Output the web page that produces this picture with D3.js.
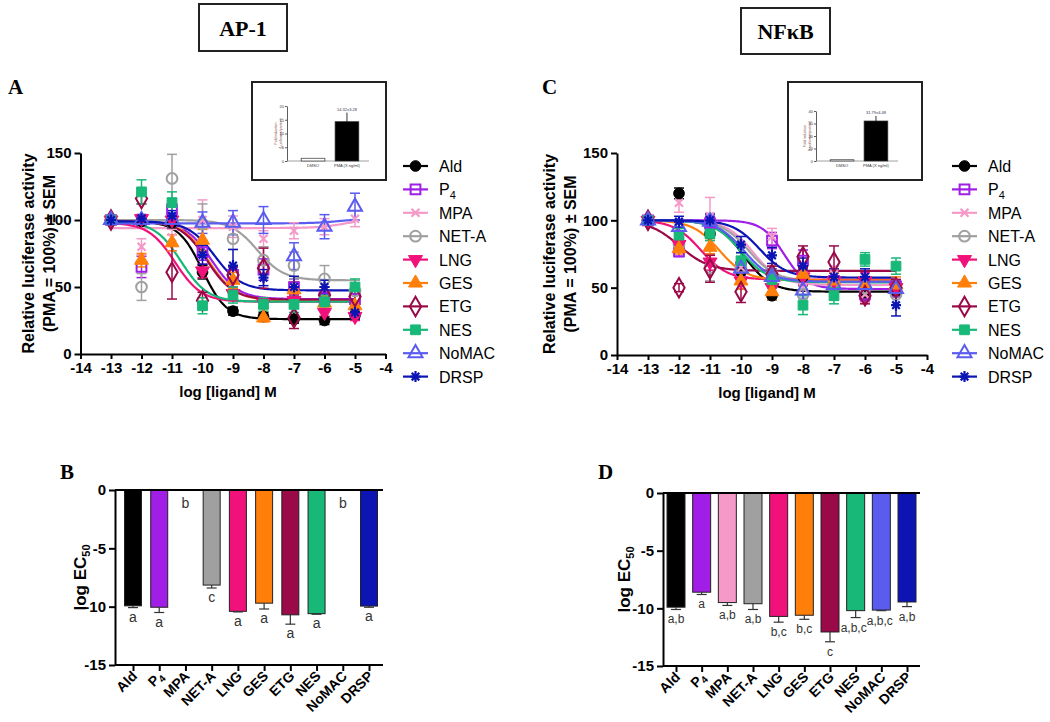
<!DOCTYPE html>
<html><head><meta charset="utf-8">
<script src="https://cdn.jsdelivr.net/npm/d3@7"></script>
<style>body{margin:0;background:#fff}svg{display:block}</style>
</head><body>
<svg id="c" width="1050" height="722"></svg>
<script>
// ---------------- DATA ----------------
const compounds = ["Ald","P4","MPA","NET-A","LNG","GES","ETG","NES","NoMAC","DRSP"];
const colors = ["#000000","#a01ee6","#f59ac8","#a0a0a0","#f0127a","#ff7f0a","#9a0a48","#18b878","#5a5cf0","#0c14b4"];
const shapes = ["circle","squareOpen","x","circleOpen","triDown","tri","diamondOpen","square","triOpen","star"];
const doses = [-13,-12,-11,-10,-9,-8,-7,-6,-5];
const xTicks = [-14,-13,-12,-11,-10,-9,-8,-7,-6,-5,-4];
const yTicks = [0,50,100,150];

// AP-1 dose response (mean, SEM)
const ap1Means = [
  [100,99,98,61,32,28,26,25,29],
  [100,65,108,76,59,63,50,42,41],
  [100,80,87,100,95,86,92,95,101],
  [100,50,131,97,86,70,66,56,47],
  [100,101,100,62,45,38,40,31,28],
  [100,70,83,85,55,27,48,38,36],
  [100,116,61,40,59,64,27,44,43],
  [100,121,113,36,44,37,37,39,50],
  [100,100,100,98,98,100,73,95,110],
  [100,101,103,74,66,57,50,50,31]
];
const ap1Sem = [
  [2,3,4,5,3,3,3,3,3],
  [2,8,6,6,6,8,6,5,4],
  [2,6,6,15,8,6,6,6,6],
  [2,10,18,15,8,10,10,10,8],
  [2,3,3,5,5,4,4,3,3],
  [2,5,6,8,6,3,6,5,3],
  [2,4,20,6,6,15,8,6,6],
  [2,9,8,6,6,5,6,5,6],
  [2,4,5,8,9,10,10,9,10],
  [2,3,4,7,12,6,8,5,5]
];
// AP-1 fitted curve parameters (left plateau, right plateau, logEC50, hill)
const ap1Top    = [99,99,94,100,98,99,99,99,97.5,99];
const ap1Bottom = [26,41,101,55,39,40,40.5,39,101,47.5];
const ap1LogEC  = [-10.0,-9.7,-5.3,-8.2,-10.9,-9.8,-9.85,-10.7,-5.5,-9.6];
const ap1Hill   = [1.1,1.0,1.0,1.0,1.0,1.0,1.0,1.0,1.0,1.0];

// NFkB dose response
const nfMeans = [
  [100,120,90,62,44,58,55,45,48],
  [100,77,98,65,85,70,55,45,51],
  [100,113,103,65,88,50,60,45,50],
  [100,82,65,65,60,45,55,50,45],
  [100,82,69,55,50,58,55,55,50],
  [100,79,80,55,47,60,55,52,52],
  [100,50,64,47,60,73,69,44,50],
  [100,89,90,70,56,37,44,71,66],
  [100,95,99,64,58,48,52,52,49],
  [100,99,100,82,74,66,58,58,37]
];
const nfSem = [
  [2,4,3,5,3,6,6,4,4],
  [2,4,5,6,6,8,6,5,5],
  [2,7,14,6,6,8,6,6,6],
  [2,5,10,6,6,6,6,6,8],
  [2,4,6,6,6,6,6,6,6],
  [2,4,5,6,6,6,6,6,6],
  [2,3,10,8,6,8,12,6,6],
  [2,5,5,6,6,7,6,5,6],
  [2,4,5,5,6,6,6,6,6],
  [2,4,5,6,6,6,6,6,8]
];
const nfTop    = [100,100,100,100,100,100,100,100,100,100];
const nfBottom = [47,49,52,55,56,55.5,62.5,54,54.5,57.5];
const nfLogEC  = [-9.9,-8.6,-9.6,-9.75,-11.3,-10.7,-12.0,-10.0,-9.9,-9.4];
const nfHill   = [1.0,1.2,1.0,1.0,1.0,1.0,0.9,1.0,1.0,1.0];

// log EC50 bar data
const barTicks = [0,-5,-10,-15];
const ap1EC50 = [-9.93,-10.05,null,-8.15,-10.4,-9.7,-10.7,-10.6,null,-9.95];
const ap1EC50Err = [0.15,0.45,null,0.25,0.05,0.5,0.8,0.05,null,0.1];
const ap1Letters = ["a","a","b","c","a","a","a","a","b","a"];
const nfEC50 = [-9.9,-8.6,-9.5,-9.6,-10.7,-10.6,-12.05,-10.2,-10.15,-9.45];
const nfEC50Err = [0.2,0.2,0.25,0.5,0.5,0.35,0.85,0.6,0.05,0.4];
const nfLetters = ["a,b","a","a,b","a,b","b,c","b,c","c","a,b,c","a,b,c","a,b"];

// inset bar charts
const insetCats = ["DMSO","PMA (X ng/ml)"];
const ap1InsetVals = [1,14.3];
const ap1InsetErr = [0,3.3];
const ap1InsetTicks = [0,5,10,15,20];
const nfInsetVals = [1,32];
const nfInsetErr = [0,4];
const nfInsetTicks = [0,10,20,30,40];

// ---------------- DRAWING ----------------
const svg = d3.select("#c");
const SANS = "'Liberation Sans', Arial, sans-serif";
const SERIF = "'Liberation Serif', 'Times New Roman', serif";

function symbolPath(shape){
  switch(shape){
    case "circle": case "circleOpen": return d3.symbol().type(d3.symbolCircle).size(90)();
    case "square": case "squareOpen": return d3.symbol().type(d3.symbolSquare).size(95)();
    case "tri": case "triOpen": return d3.symbol().type(d3.symbolTriangle).size(85)();
    case "triDown": return d3.symbol().type(d3.symbolTriangle).size(85)();
    case "diamondOpen": return d3.symbol().type(d3.symbolDiamond).size(110)();
    case "x": return "M-4,-4L4,4M-4,4L4,-4";
    case "star": return "M-5,0H5M0,-5.5V5.5M-3.8,-3.8L3.8,3.8M-3.8,3.8L3.8,-3.8";
  }
}
function drawSymbol(g, shape, color, x, y){
  const p = g.append("path").attr("d", symbolPath(shape))
    .attr("transform", `translate(${x},${y})` + (shape==="triDown" ? " rotate(180)" : ""));
  if (["circle","square","tri","triDown"].includes(shape)) p.attr("fill", color).attr("stroke", color).attr("stroke-width",1);
  else if (["x","star"].includes(shape)) p.attr("fill","none").attr("stroke", color).attr("stroke-width", 2.2);
  else p.attr("fill","none").attr("stroke", color).attr("stroke-width", 2);
}
function sigmoid(x, top, bottom, ec, hill){
  return bottom + (top - bottom) / (1 + Math.pow(10, (x - ec) * hill));
}

function dosePanel(cfg){
  const x = d3.scaleLinear().domain([-14,-4]).range([cfg.x0, cfg.x1]);
  const y = d3.scaleLinear().domain([0,150]).range([cfg.yBot, cfg.yTop]);
  const g = svg.append("g");

  const xa = g.append("g").attr("transform", `translate(0,${cfg.yBot})`)
    .call(d3.axisBottom(x).tickValues(xTicks).tickSize(5).tickSizeOuter(0).tickPadding(3).tickFormat(d3.format("d")));
  const ya = g.append("g").attr("transform", `translate(${cfg.x0},0)`)
    .call(d3.axisLeft(y).tickValues(yTicks).tickSize(6).tickSizeOuter(0).tickPadding(3));
  [xa, ya].forEach(a => {
    a.selectAll("path,line").attr("stroke","#000").attr("stroke-width",2);
    a.selectAll("text").attr("font-family",SANS).attr("font-weight","bold").attr("font-size",15).attr("fill","#000");
  });
  xa.selectAll("text").text(d => String(d));

  g.append("text").attr("x", (cfg.x0 + cfg.x1)/2 - 5).attr("y", cfg.yBot + 43)
    .attr("text-anchor","middle").attr("font-family",SANS).attr("font-weight","bold").attr("font-size",15)
    .text("log [ligand] M");
  const yl = g.append("text").attr("transform", `translate(${cfg.ylx},${(cfg.yTop+cfg.yBot)/2}) rotate(-90)`)
    .attr("text-anchor","middle").attr("font-family",SANS).attr("font-weight","bold").attr("font-size",16);
  yl.append("tspan").attr("x",0).attr("dy",0).text("Relative luciferase activity");
  yl.append("tspan").attr("x",0).attr("dy",21).text("(PMA = 100%) \u00b1 SEM");

  const xs = d3.range(-13, -4.99, 0.04);
  const line = d3.line().x(d => x(d[0])).y(d => y(d[1]));
  compounds.forEach((c, i) => {
    const pts = xs.map(v => [v, sigmoid(v, cfg.top[i], cfg.bottom[i], cfg.ec[i], cfg.hill[i])]);
    g.append("path").attr("d", line(pts)).attr("fill","none").attr("stroke", colors[i]).attr("stroke-width",2.2);
  });
  compounds.forEach((c, i) => {
    const gg = g.append("g");
    doses.forEach((d, j) => {
      const m = cfg.means[i][j], s = cfg.sem[i][j];
      const cx = x(d);
      gg.append("line").attr("x1",cx).attr("x2",cx).attr("y1",y(m-s)).attr("y2",y(m+s)).attr("stroke",colors[i]).attr("stroke-width",1.5);
      [m-s, m+s].forEach(v => gg.append("line").attr("x1",cx-5).attr("x2",cx+5).attr("y1",y(v)).attr("y2",y(v)).attr("stroke",colors[i]).attr("stroke-width",1.5));
    });
  });
  compounds.forEach((c, i) => {
    doses.forEach((d, j) => drawSymbol(g, shapes[i], colors[i], x(d), y(cfg.means[i][j])));
  });

  compounds.forEach((c, i) => {
    const ly = cfg.legY + i * 23.4;
    g.append("line").attr("x1", cfg.legX).attr("x2", cfg.legX + 25).attr("y1", ly).attr("y2", ly).attr("stroke", colors[i]).attr("stroke-width",2.2);
    drawSymbol(g, shapes[i], colors[i], cfg.legX + 12.5, ly);
    const t = g.append("text").attr("x", cfg.legX + 36).attr("y", ly + 6).attr("font-family",SANS).attr("font-size",16);
    if (c === "P4") { t.append("tspan").text("P"); t.append("tspan").attr("font-size",11).attr("dy",4).text("4"); }
    else t.text(c);
  });

  svg.append("text").attr("x", cfg.letterX).attr("y", 94).attr("font-family",SERIF).attr("font-weight","bold").attr("font-size",21).text(cfg.letter);
}

function inset(cfg){
  const g = svg.append("g");
  g.append("rect").attr("x",cfg.bx).attr("y",82).attr("width",134).attr("height",98).attr("fill","#fff").attr("stroke","#222").attr("stroke-width",2);
  const y = d3.scaleLinear().domain([0, cfg.ticks[cfg.ticks.length-1]]).range([161, cfg.yTop]);
  const x = d3.scaleBand().domain(insetCats).range([cfg.ax + 4, cfg.ax + 82]).padding(0.3);
  const ya = g.append("g").attr("transform",`translate(${cfg.ax},0)`).call(d3.axisLeft(y).tickValues(cfg.ticks).tickSize(2).tickSizeOuter(0).tickPadding(1));
  ya.selectAll("path,line").attr("stroke","#333").attr("stroke-width",0.8);
  ya.selectAll("text").attr("font-size",4).attr("font-family",SANS).attr("fill","#333");
  g.append("line").attr("x1",cfg.ax).attr("x2",cfg.ax+82).attr("y1",161).attr("y2",161).attr("stroke","#888").attr("stroke-width",0.8);
  insetCats.forEach((c,i) => {
    const v = cfg.vals[i];
    g.append("rect").attr("x",x(c)).attr("y",y(v)).attr("width",x.bandwidth()).attr("height",161-y(v))
      .attr("fill", i===0 ? "#fff" : "#000").attr("stroke","#333").attr("stroke-width",0.7);
    if (cfg.err[i] > 0) {
      const cx = x(c) + x.bandwidth()/2;
      g.append("line").attr("x1",cx).attr("x2",cx).attr("y1",y(v)).attr("y2",y(v+cfg.err[i])).attr("stroke","#000").attr("stroke-width",0.8);
      g.append("text").attr("x",cx).attr("y",y(v+cfg.err[i])-2).attr("text-anchor","middle").attr("font-size",4).attr("font-family",SANS).attr("fill","#335").text(cfg.label);
    }
    g.append("text").attr("x",x(c)+x.bandwidth()/2).attr("y",167).attr("text-anchor","middle").attr("font-size",4).attr("font-family",SANS).attr("fill","#333").text(c);
  });
  const t = g.append("text").attr("transform",`translate(${cfg.ax-10},${(161+cfg.yTop)/2}) rotate(-90)`).attr("text-anchor","middle").attr("font-size",3.5).attr("font-family",SANS).attr("fill","#733");
  t.append("tspan").attr("x",0).text("Fold induction");
  t.append("tspan").attr("x",0).attr("dy",4.5).text("(Luciferase/protein)");
}

function barPanel(cfg){
  const g = svg.append("g");
  const x = d3.scalePoint().domain(compounds).range([cfg.c0, cfg.c1]);
  const y = d3.scaleLinear().domain([0,-15]).range([cfg.y0, cfg.y15]);
  const bw = cfg.bw;
  compounds.forEach((c,i) => {
    const v = cfg.vals[i];
    const lx = x(c) + (cfg.letterShift ? cfg.letterShift[i] : 0);
    if (v !== null) {
      g.append("rect").attr("x", x(c)-bw/2).attr("y", y(0)).attr("width", bw).attr("height", y(v)-y(0))
        .attr("fill", colors[i]).attr("stroke","#222").attr("stroke-width",1);
      const e = v - cfg.err[i];
      g.append("line").attr("x1",x(c)).attr("x2",x(c)).attr("y1",y(v)).attr("y2",y(e)).attr("stroke","#333").attr("stroke-width",1.2);
      g.append("line").attr("x1",x(c)-5).attr("x2",x(c)+5).attr("y1",y(e)).attr("y2",y(e)).attr("stroke","#333").attr("stroke-width",1.2);
      g.append("text").attr("x",lx).attr("y",y(e)+14).attr("text-anchor","middle").attr("font-family",SANS).attr("font-size",cfg.letterSize).attr("fill","#333").text(cfg.letters[i]);
    } else {
      g.append("text").attr("x",lx).attr("y",y(0)+18).attr("text-anchor","middle").attr("font-family",SANS).attr("font-size",cfg.letterSize).attr("fill","#333").text(cfg.letters[i]);
    }
  });
  const ya = g.append("g").attr("transform",`translate(${cfg.ax},0)`).call(d3.axisLeft(y).tickValues(barTicks).tickSize(6).tickSizeOuter(0).tickPadding(3));
  ya.selectAll("path,line").attr("stroke","#000").attr("stroke-width",2);
  ya.selectAll("text").attr("font-family",SANS).attr("font-weight","bold").attr("font-size",15).attr("fill","#000").text(d => String(d));
  g.append("line").attr("x1",cfg.ax).attr("x2",cfg.axEnd).attr("y1",y(0)).attr("y2",y(0)).attr("stroke","#000").attr("stroke-width",2);
  const xa = g.append("g").attr("transform",`translate(0,${y(-15)})`).call(d3.axisBottom(x).tickSize(6).tickSizeOuter(0).tickFormat(""));
  xa.select(".domain").remove();
  xa.selectAll("line").attr("stroke","#000").attr("stroke-width",2);
  g.append("line").attr("x1",cfg.ax).attr("x2",cfg.axEnd).attr("y1",y(-15)).attr("y2",y(-15)).attr("stroke","#000").attr("stroke-width",2);
  compounds.forEach((c,i) => {
    const t = g.append("text").attr("transform",`translate(${x(c)+5},${y(-15)+12}) rotate(-45)`).attr("text-anchor","end")
      .attr("font-family",SANS).attr("font-weight","bold").attr("font-size",14);
    if (c === "P4") { t.append("tspan").text("P"); t.append("tspan").attr("font-size",10).attr("dy",3).text("4"); }
    else t.text(c);
  });
  const yl = g.append("text").attr("transform",`translate(${cfg.ylx},${(cfg.y0+cfg.y15)/2}) rotate(-90)`).attr("text-anchor","middle")
    .attr("font-family",SANS).attr("font-weight","bold").attr("font-size",17);
  yl.append("tspan").text("log EC");
  yl.append("tspan").attr("font-size",11).attr("dy",4).text("50");
  svg.append("text").attr("x", cfg.letterX).attr("y", 479).attr("font-family",SERIF).attr("font-weight","bold").attr("font-size",21).text(cfg.letter);
}

function header(x0, x1, y0, y1, label){
  svg.append("rect").attr("x",x0).attr("y",y0).attr("width",x1-x0).attr("height",y1-y0).attr("fill","#fff").attr("stroke","#222").attr("stroke-width",2);
  svg.append("text").attr("x",(x0+x1)/2).attr("y",(y0+y1)/2+8).attr("text-anchor","middle").attr("font-family",SERIF).attr("font-weight","bold").attr("font-size",22).text(label);
}
header(199, 287, 4, 51, "AP-1");
header(741, 830, 8, 54, "NF\u03baB");

dosePanel({x0:80.5, x1:385.5, yTop:153, yBot:354, ylx:34, means:ap1Means, sem:ap1Sem, top:ap1Top, bottom:ap1Bottom, ec:ap1LogEC, hill:ap1Hill, legX:403, legY:166, letter:"A", letterX:8});
dosePanel({x0:617, x1:927, yTop:153, yBot:355, ylx:555, means:nfMeans, sem:nfSem, top:nfTop, bottom:nfBottom, ec:nfLogEC, hill:nfHill, legX:952, legY:166, letter:"C", letterX:542});

inset({bx:252, ax:287, yTop:106, ticks:ap1InsetTicks, vals:ap1InsetVals, err:ap1InsetErr, label:"14.32\u00b13.28"});
inset({bx:788, ax:816, yTop:111, ticks:nfInsetTicks, vals:nfInsetVals, err:nfInsetErr, label:"31.79\u00b14.48"});

barPanel({c0:133, c1:369, y0:490, y15:665, bw:17, ax:115, axEnd:383, vals:ap1EC50, err:ap1EC50Err, letters:ap1Letters, letterSize:14, ylx:86, letter:"B", letterX:60});
barPanel({c0:676, c1:907, y0:493, y15:666, bw:18, ax:663, axEnd:920, vals:nfEC50, err:nfEC50Err, letters:nfLetters, letterSize:12,
  letterShift:[0,0,0,0,0,0,0,-2,-1.5,0], ylx:630, letter:"D", letterX:598});
</script>
</body></html>
